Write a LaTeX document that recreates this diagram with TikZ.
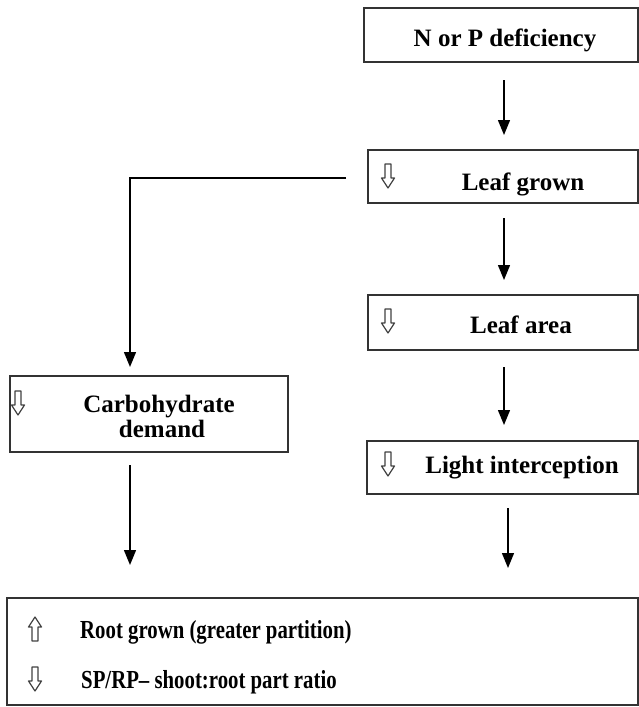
\documentclass[tikz,border=0pt]{standalone}
\usepackage{fontspec}
\setmainfont{Liberation Serif}
\newfontfamily\condensedserif[FakeStretch=0.8,Ligatures=TeX]{Liberation Serif}
\usetikzlibrary{arrows.meta}
\begin{document}
\begin{tikzpicture}[x=1pt,y=-1pt,
  box/.style={draw=black!80,line width=1.3pt,inner sep=0pt,outer sep=0pt,anchor=north west},
  txt/.style={font=\bfseries\fontsize{25}{25}\selectfont,inner sep=0pt,anchor=base},
  btxt/.style={font=\condensedserif\bfseries\fontsize{26}{25}\selectfont,inner sep=0pt,anchor=base west},
  arr/.style={line width=1.4pt,-{Triangle[width=12pt,length=15pt]}},
  hollowdown/.pic={\draw[line width=1.2pt,black!75,line join=round]
     (-3,0) -- (3,0) -- (3,14) -- (6.5,14) -- (0,24) -- (-6.5,14) -- (-3,14) -- cycle;},
  hollowup/.pic={\draw[line width=1.2pt,black!75,line join=round]
     (-3,24) -- (3,24) -- (3,10) -- (6.5,10) -- (0,0) -- (-6.5,10) -- (-3,10) -- cycle;}
]
\useasboundingbox (0,0) rectangle (639,707);
% boxes
\node[box,minimum width=274pt,minimum height=54pt] (np) at (364,8) {};
\node[box,minimum width=270pt,minimum height=53pt] (lg) at (368,150) {};
\node[box,minimum width=270pt,minimum height=55pt] (la) at (368,295) {};
\node[box,minimum width=271pt,minimum height=53pt] (li) at (367,441) {};
\node[box,minimum width=278pt,minimum height=76pt] (cd) at (10,376) {};
\node[box,minimum width=631pt,minimum height=107pt] (rg) at (7,598) {};
% texts
\node[txt] (tnp) at (505,46) {N or P deficiency};
\node[txt] (tlg) at (523,190) {Leaf grown};
\node[txt] (tla) at (521,333) {Leaf area};
\node[txt] (tli) at (522,473) {Light interception};
\node[txt] (tcd1) at (159,412) {Carbohydrate};
\node[txt] (tcd2) at (162,437) {demand};
\node[btxt] (tr1) at (80,638) {Root grown (greater partition)};
\node[btxt] (tr2) at (81,688) {SP/RP– shoot:root part ratio};
% hollow arrows
\pic at (388,164) {hollowdown};
\pic at (388,309) {hollowdown};
\pic at (388,452) {hollowdown};
\pic at (18,391) {hollowdown};
\pic at (35,617) {hollowup};
\pic at (35,667) {hollowdown};
% connectors
\draw[arr,shorten <=18pt,shorten >=15pt] ([xshift=3pt]np.south) -- ([xshift=1pt]lg.north);
\draw[arr,shorten <=15pt,shorten >=15pt] ([xshift=1pt]lg.south) -- ([xshift=1pt]la.north);
\draw[arr,shorten <=17pt,shorten >=16pt] ([xshift=1pt]la.south) -- ([xshift=1.5pt]li.north);
\draw[arr,shorten <=14pt,shorten >=30pt] ([xshift=5.5pt]li.south) -- ([xshift=5.5pt]li.south |- rg.north);
\draw[arr,shorten <=22pt,shorten >=9pt] ([yshift=-1.5pt]lg.west) -| ([xshift=-19pt]cd.north);
\draw[arr,shorten <=13pt,shorten >=33pt] ([xshift=-19pt]cd.south) -- ([xshift=-19pt]cd.south |- rg.north);
\end{tikzpicture}
\end{document}
